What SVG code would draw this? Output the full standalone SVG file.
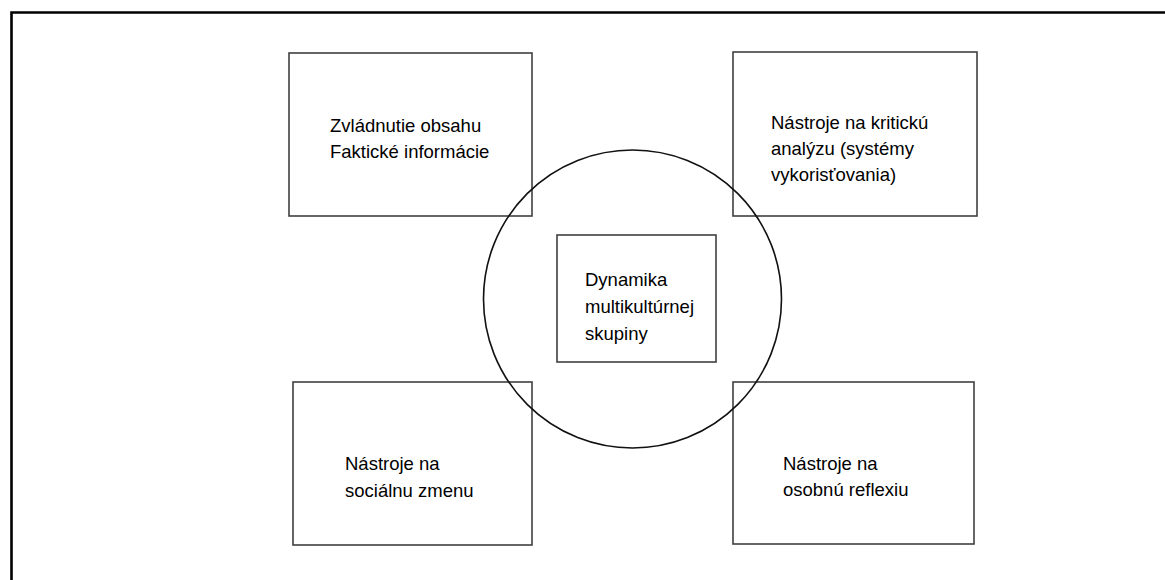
<svg xmlns="http://www.w3.org/2000/svg" width="1165" height="580" viewBox="0 0 1165 580">
<style>
.box{fill:#fff;stroke:#404040;stroke-width:1.6}
.t{font-family:"Liberation Sans",Arial,sans-serif;font-size:18.5px;fill:#000}
.ring{fill:none;stroke:#111;stroke-width:1.6}
</style>
<rect width="1165" height="580" fill="#fff"/>
<path d="M11.5,580 V12.5 H1165" fill="none" stroke="#000" stroke-width="2.6"/>
<g id="n1"><rect class="box" x="289" y="53" width="243" height="163"/>
<text class="t" x="330" y="131.5">Zvládnutie obsahu</text><text class="t" x="330" y="158">Faktické informácie</text></g>
<g id="n2"><rect class="box" x="733" y="52" width="244" height="164"/>
<text class="t" x="771" y="128.5">Nástroje na kritickú</text><text class="t" x="771" y="155">analýzu (systémy</text><text class="t" x="771" y="181">vykorisťovania)</text></g>
<g id="n4"><rect class="box" x="293" y="382" width="239" height="163"/>
<text class="t" x="345" y="470">Nástroje na</text><text class="t" x="345" y="496.5">sociálnu zmenu</text></g>
<g id="n5"><rect class="box" x="733" y="382" width="241" height="162"/>
<text class="t" x="783" y="469.5">Nástroje na</text><text class="t" x="783" y="496">osobnú reflexiu</text></g>
<g id="connectors"><circle class="ring" cx="632.5" cy="299" r="149"/></g>
<g id="n3"><rect class="box" x="557" y="235" width="159" height="127"/>
<text class="t" x="585" y="285.5">Dynamika</text><text class="t" x="585" y="313">multikultúrnej</text><text class="t" x="585" y="340">skupiny</text></g>
</svg>
